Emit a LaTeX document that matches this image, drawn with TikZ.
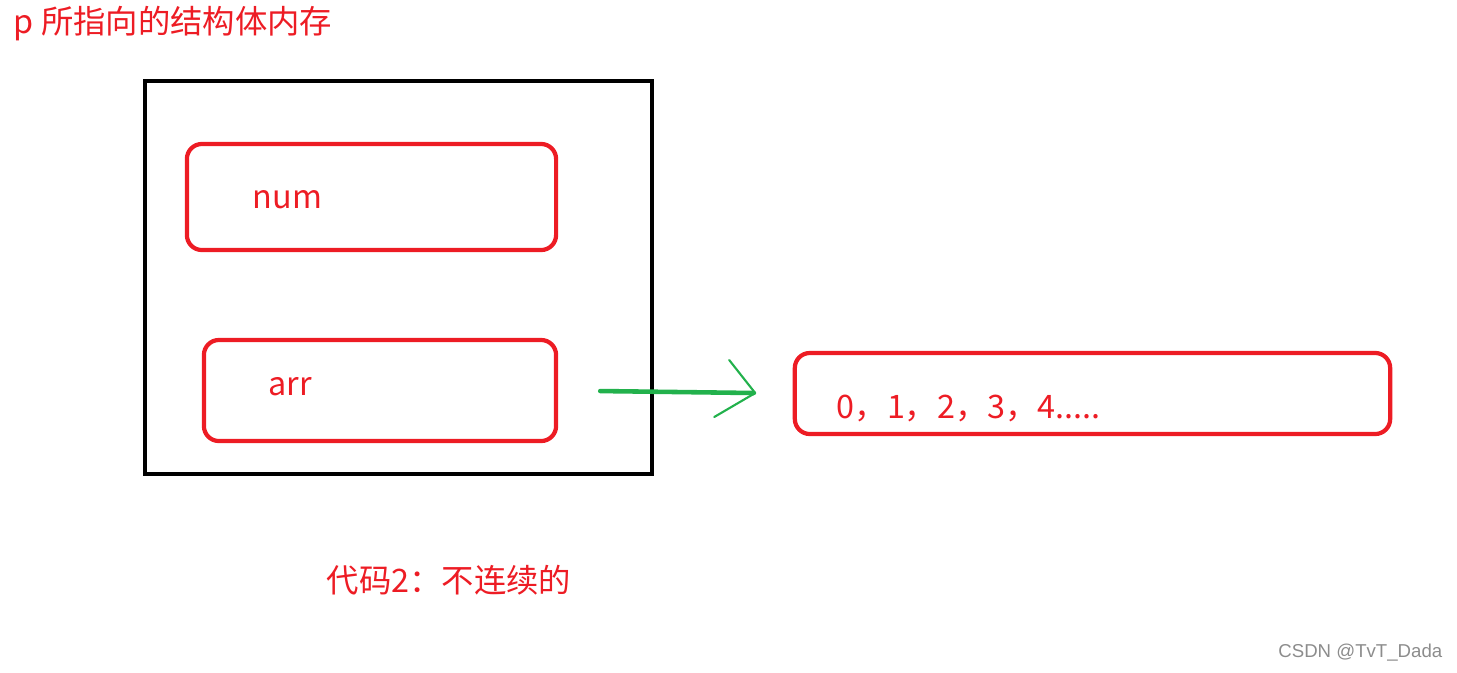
\documentclass[tikz,border=0pt]{standalone}
\usepackage{fontspec}
\setmainfont{Noto Sans CJK SC}
\newfontfamily\markfont{Liberation Sans}
\usetikzlibrary{positioning}

\definecolor{paintred}{HTML}{ED1C24}
\definecolor{paintgreen}{HTML}{22B14C}

\tikzset{
    field/.style={draw=paintred, line width=1.2pt, rounded corners=0.15cm, inner sep=0pt},
    redtext/.style={text=paintred, font=\fontsize{9.2}{11}\selectfont, inner sep=0pt, anchor=west},
}

\begin{document}
\begin{tikzpicture}[x=0.01cm, y=-0.01cm]
    \useasboundingbox (0,0) rectangle (1457,672);

    % =====================================================
    % TITLE
    % =====================================================
    \node[redtext] (title) at (13,24) {p 所指向的结构体内存};

    % =====================================================
    % STRUCT MEMORY
    % =====================================================
    \node[draw=black, line width=1.25pt, minimum width=5.07cm, minimum height=3.93cm, inner sep=0pt] (mem) at (398.5,277.5) {};

    % Members
    \node[field, minimum width=3.69cm, minimum height=1.06cm] (num) at (371.5,197) {};
    \node[field, minimum width=3.52cm, minimum height=1.01cm] (arr) at (380,390.5) {};
    \node[redtext] (numlabel) at (252,200) {num};
    \node[redtext] (arrlabel) at (268,387) {arr};

    % =====================================================
    % SEPARATE ARRAY
    % =====================================================
    \node[field, minimum width=5.95cm, minimum height=0.81cm] (vals) at (1092.5,393.5) {};
    \node[redtext] (valslabel) at (836,408) {0，1，2，3，4.....};

    % Pointer arrow
    \draw[paintgreen, line width=1.3pt, line cap=round, shorten <=0.42cm, shorten >=0.39cm] (arr.east) -- (vals.west) coordinate[pos=0.84] (tip);
    \draw[paintgreen, line width=0.6pt, line cap=round, line join=round] (tip) ++(-26,-33) -- (tip) -- ++(-41,24);

    % Caption
    \node[redtext] (caption) at (326,580) {代码2：不连续的};

    % Watermark
    \node[text=black!45, font=\markfont\fontsize{5.3}{6}\selectfont, inner sep=0pt, anchor=east] (mark) at (1443,653) {CSDN @TvT\_Dada};

\end{tikzpicture}
\end{document}
